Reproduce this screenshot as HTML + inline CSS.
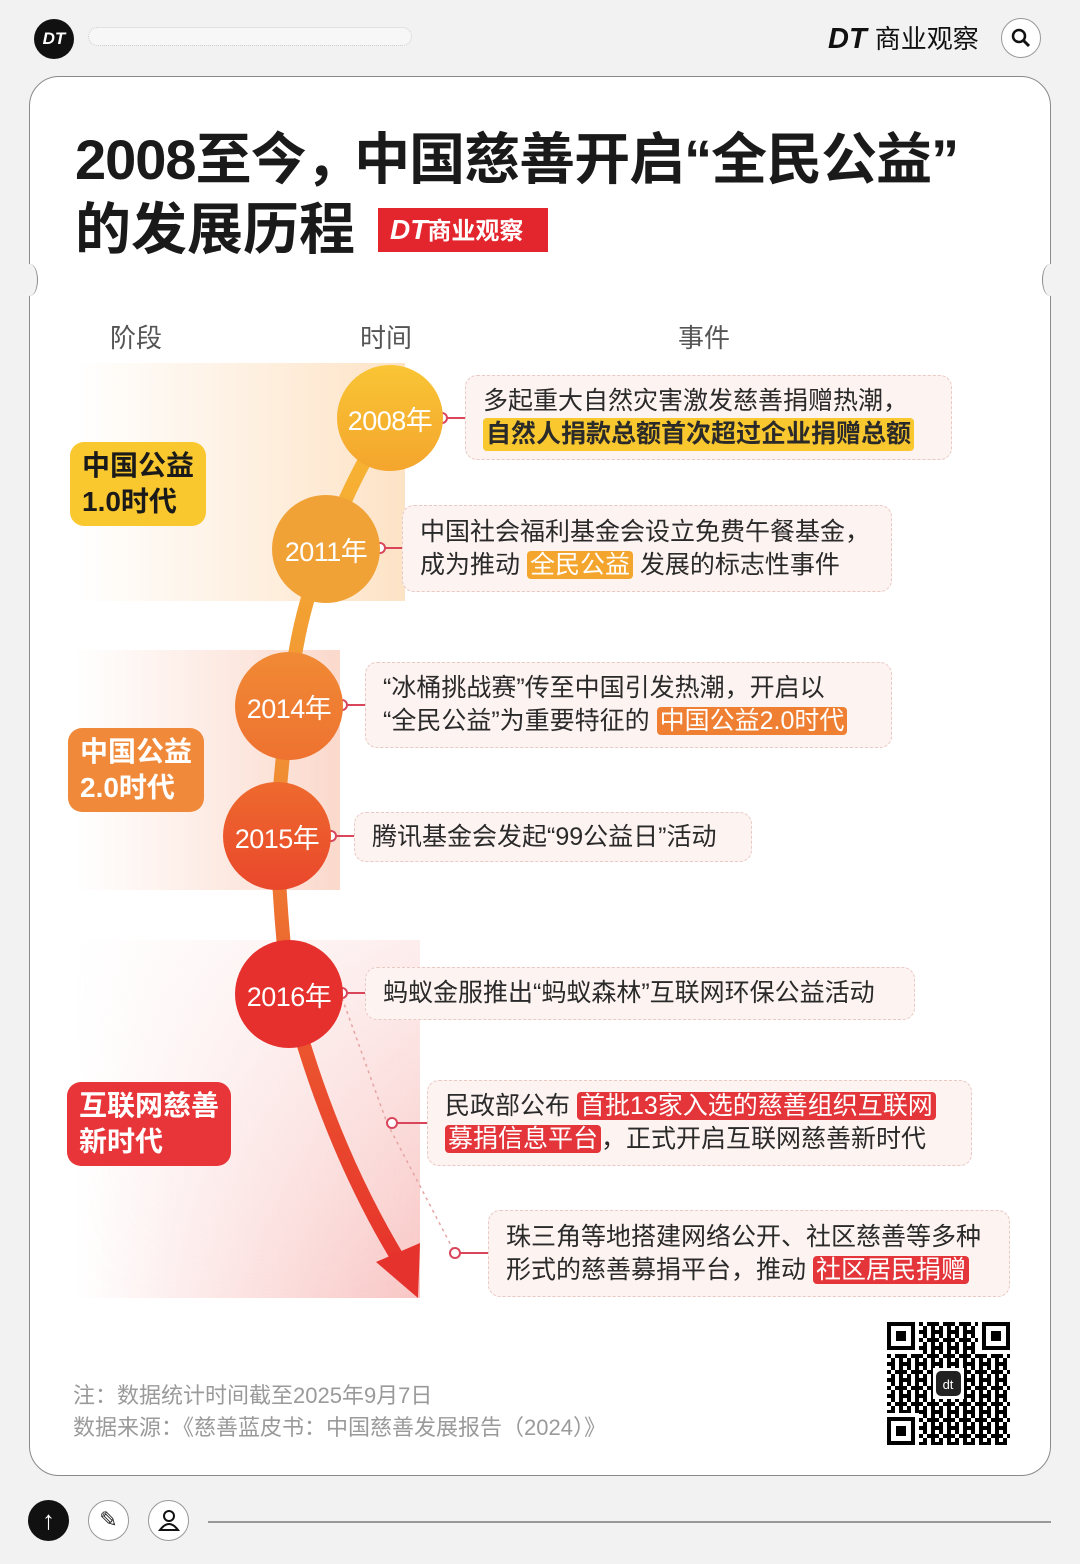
<!DOCTYPE html>
<html><head><meta charset="utf-8">
<style>
*{margin:0;padding:0;box-sizing:border-box}
body{width:1080px;height:1564px;background:#f2f2f2;position:relative;overflow:hidden;font-family:"Liberation Sans","Noto Sans CJK SC",sans-serif;color:#222}
.a{position:absolute}
.card{left:29px;top:76px;width:1022px;height:1400px;background:#fff;border:1.5px solid #8a8a8a;border-radius:30px}
.box{position:absolute;background:#fdf3f1;border:1.5px dashed #e9c9c4;border-radius:12px;font-size:25px;line-height:33px;color:#2a2a2a;padding:0 0 0 17px;display:flex;flex-direction:column;justify-content:center;white-space:nowrap}
.hl{color:#fff;border-radius:4px;padding:0 3px}
.stage{position:absolute;font-weight:bold;font-size:28px;line-height:36px;padding:6px 12px;border-radius:14px}
.yr{position:absolute;color:#fff;font-size:27px;text-align:center;border-radius:50%;display:flex;align-items:center;justify-content:center;letter-spacing:-0.5px}
.hd{font-size:26px;color:#555;top:318px}
</style></head><body>
<div class="a" style="left:34px;top:19px;width:40px;height:40px;border-radius:50%;background:#111;color:#fff;font-weight:bold;font-style:italic;font-size:17px;display:flex;align-items:center;justify-content:center">DT</div>
<div class="a" style="left:88px;top:27px;width:324px;height:19px;border:1.5px dotted #ccc;border-radius:10px;background:#f7f7f7"></div>
<div class="a" style="left:828px;top:20px;font-size:29px;font-weight:bold;font-style:italic;color:#111;line-height:38px">DT <span style="font-style:normal;font-weight:normal;font-size:26px">商业观察</span></div>
<div class="a" style="left:1001px;top:18px;width:40px;height:40px;border-radius:50%;border:1.5px solid #999;background:#fff"></div>
<svg class="a" style="left:1010px;top:27px" width="22" height="22"><circle cx="9" cy="9" r="6" fill="none" stroke="#111" stroke-width="2.5"/><line x1="13.5" y1="13.5" x2="19" y2="19" stroke="#111" stroke-width="3"/></svg>

<div class="a card"></div>
<div class="a" style="left:22px;top:264px;width:16px;height:32px;border-radius:50%;background:#f2f2f2;border-right:1.5px solid #8a8a8a"></div>
<div class="a" style="left:1042px;top:264px;width:16px;height:32px;border-radius:50%;background:#f2f2f2;border-left:1.5px solid #8a8a8a"></div>

<div class="a" style="left:75px;top:124px;font-size:56px;font-weight:bold;line-height:72px;color:#1a1a1a;letter-spacing:-1px">2008至今<span style="letter-spacing:-22px">，</span> 中国慈善开启“全民公益”</div>
<div class="a" style="left:75px;top:194px;font-size:56px;font-weight:bold;line-height:72px;color:#1a1a1a">的发展历程</div>
<div class="a" style="left:378px;top:208px;width:170px;height:44px;background:#e3262e;color:#fff;font-weight:bold;font-size:24px;line-height:44px;padding-left:12px"><i style="font-size:28px">DT</i>商业观察</div>

<div class="a hd" style="left:110px">阶段</div>
<div class="a hd" style="left:360px">时间</div>
<div class="a hd" style="left:678px">事件</div>

<div class="a" style="left:75px;top:363px;width:330px;height:238px;background:linear-gradient(90deg,rgba(253,230,205,0),#fde3c6)"></div>
<div class="a" style="left:75px;top:650px;width:265px;height:240px;background:linear-gradient(90deg,rgba(252,225,215,0),#fbd9cc)"></div>
<div class="a" style="left:75px;top:940px;width:345px;height:358px;background:linear-gradient(90deg,rgba(252,215,215,0),#f8c6c4);-webkit-mask-image:linear-gradient(180deg,rgba(0,0,0,.3),#000);mask-image:linear-gradient(180deg,rgba(0,0,0,.3),#000)"></div>

<svg class="a" style="left:0;top:0" width="1080" height="1564">
<defs><linearGradient id="g" x1="0" y1="0" x2="0" y2="1"><stop offset="0" stop-color="#f7b733"/><stop offset=".45" stop-color="#ef8a33"/><stop offset=".7" stop-color="#ec5a2e"/><stop offset="1" stop-color="#e6322c"/></linearGradient></defs>
<path d="M390 418 Q350 480 326 548 Q295 620 289 706 Q280 770 277 836 Q280 920 289 993 Q330 1150 405 1270" fill="none" stroke="url(#g)" stroke-width="14" stroke-linecap="round"/>
<polygon points="418,1298 376,1262 420,1243" fill="#e6322c"/>
<path d="M342 998 L387 1123 L455 1253" fill="none" stroke="#e5a5a3" stroke-width="1.5" stroke-dasharray="3 4"/>
<g stroke="#d9455a" stroke-width="2" fill="#fff">
<line x1="447" y1="418" x2="465" y2="418"/><circle cx="442" cy="418" r="5"/>
<line x1="384" y1="548" x2="402" y2="548"/><circle cx="380" cy="548" r="5"/>
<line x1="347" y1="705" x2="365" y2="705"/><circle cx="342" cy="705" r="5"/>
<line x1="336" y1="836" x2="354" y2="836"/><circle cx="331" cy="836" r="5"/>
<line x1="347" y1="993" x2="365" y2="993"/><circle cx="342" cy="993" r="5"/>
<line x1="397" y1="1123" x2="427" y2="1123"/><circle cx="392" cy="1123" r="5"/>
<line x1="460" y1="1253" x2="488" y2="1253"/><circle cx="455" cy="1253" r="5"/>
</g>
</svg>

<div class="yr" style="left:337px;top:365px;width:106px;height:106px;background:linear-gradient(#f9c535,#f4a52d)">2008年</div>
<div class="yr" style="left:272px;top:495px;width:108px;height:108px;background:#f1a237">2011年</div>
<div class="yr" style="left:235px;top:652px;width:108px;height:108px;background:linear-gradient(#f08a35,#ee7230)">2014年</div>
<div class="yr" style="left:223px;top:782px;width:108px;height:108px;background:linear-gradient(#ee6a2e,#e9472b)">2015年</div>
<div class="yr" style="left:235px;top:940px;width:108px;height:108px;background:#e5302d">2016年</div>

<div class="stage" style="left:70px;top:442px;background:#f9c72e;color:#1a1a1a">中国公益<br>1.0时代</div>
<div class="stage" style="left:68px;top:728px;background:#f0893a;color:#fff">中国公益<br>2.0时代</div>
<div class="stage" style="left:67px;top:1082px;background:#e7353a;color:#fff">互联网慈善<br>新时代</div>

<div class="box" style="left:465px;top:375px;width:487px;height:85px">多起重大自然灾害激发慈善捐赠热潮，<span style="font-weight:bold;background:#f9c72e;border-radius:4px;padding:0 3px;align-self:flex-start">自然人捐款总额首次超过企业捐赠总额</span></div>
<div class="box" style="left:402px;top:505px;width:490px;height:87px"><div>中国社会福利基金会设立免费午餐基金，</div><div>成为推动 <span class="hl" style="background:#f4a52d">全民公益</span> 发展的标志性事件</div></div>
<div class="box" style="left:365px;top:662px;width:527px;height:86px"><div>“冰桶挑战赛”传至中国引发热潮，开启以</div><div>“全民公益”为重要特征的 <span class="hl" style="background:#ef7f33">中国公益2.0时代</span></div></div>
<div class="box" style="left:354px;top:812px;width:398px;height:50px">腾讯基金会发起“99公益日”活动</div>
<div class="box" style="left:365px;top:967px;width:550px;height:53px">蚂蚁金服推出“蚂蚁森林”互联网环保公益活动</div>
<div class="box" style="left:427px;top:1080px;width:545px;height:86px"><div>民政部公布 <span class="hl" style="background:#e3353a">首批13家入选的慈善组织互联网</span></div><div><span class="hl" style="background:#e3353a">募捐信息平台</span>，正式开启互联网慈善新时代</div></div>
<div class="box" style="left:488px;top:1210px;width:522px;height:87px"><div>珠三角等地搭建网络公开、社区慈善等多种</div><div>形式的慈善募捐平台，推动 <span class="hl" style="background:#e3353a">社区居民捐赠</span></div></div>

<div class="a" style="left:73px;top:1380px;font-size:22px;line-height:32px;color:#9a9a9a">注：数据统计时间截至2025年9月7日<br>数据来源：《慈善蓝皮书：中国慈善发展报告（2024）》</div>

<svg class="a" style="left:887px;top:1322px" width="123" height="123">
<defs><pattern id="q" width="16" height="16" patternUnits="userSpaceOnUse"><rect width="16" height="16" fill="#fff"/><rect x="0" y="0" width="4" height="4"/><rect x="8" y="0" width="8" height="4"/><rect x="4" y="4" width="4" height="4"/><rect x="12" y="4" width="4" height="8"/><rect x="0" y="8" width="8" height="4"/><rect x="4" y="12" width="4" height="4"/><rect x="12" y="12" width="4" height="4"/></pattern></defs>
<rect width="123" height="123" fill="url(#q)"/>
<g fill="#fff"><rect x="0" y="0" width="32" height="32"/><rect x="91" y="0" width="32" height="32"/><rect x="0" y="91" width="32" height="32"/></g>
<g fill="none" stroke="#000" stroke-width="4"><rect x="2" y="2" width="24" height="24"/><rect x="97" y="2" width="24" height="24"/><rect x="2" y="97" width="24" height="24"/></g>
<g><rect x="9" y="9" width="10" height="10"/><rect x="104" y="9" width="10" height="10"/><rect x="9" y="104" width="10" height="10"/></g>
<rect x="46" y="46" width="31" height="31" fill="#fff"/><rect x="49" y="49" width="25" height="25" rx="5" fill="#222"/>
<text x="61" y="67" font-size="13" fill="#fff" text-anchor="middle" font-family="Liberation Sans">dt</text>
</svg>

<div class="a" style="left:28px;top:1500px;width:41px;height:41px;border-radius:50%;background:#111;color:#fff;font-size:26px;text-align:center;line-height:40px">↑</div>
<div class="a" style="left:88px;top:1500px;width:41px;height:41px;border-radius:50%;border:1.5px solid #999;background:#fff;font-size:22px;text-align:center;line-height:38px">✎</div>
<div class="a" style="left:148px;top:1500px;width:41px;height:41px;border-radius:50%;border:1.5px solid #999;background:#fff"></div>
<svg class="a" style="left:155px;top:1506px" width="28" height="28"><circle cx="14" cy="10" r="5" fill="none" stroke="#111" stroke-width="2"/><path d="M5 24 Q14 12 23 24 Z" fill="none" stroke="#111" stroke-width="2"/></svg>
<div class="a" style="left:208px;top:1521px;width:843px;height:1.5px;background:#999"></div>
</body></html>
